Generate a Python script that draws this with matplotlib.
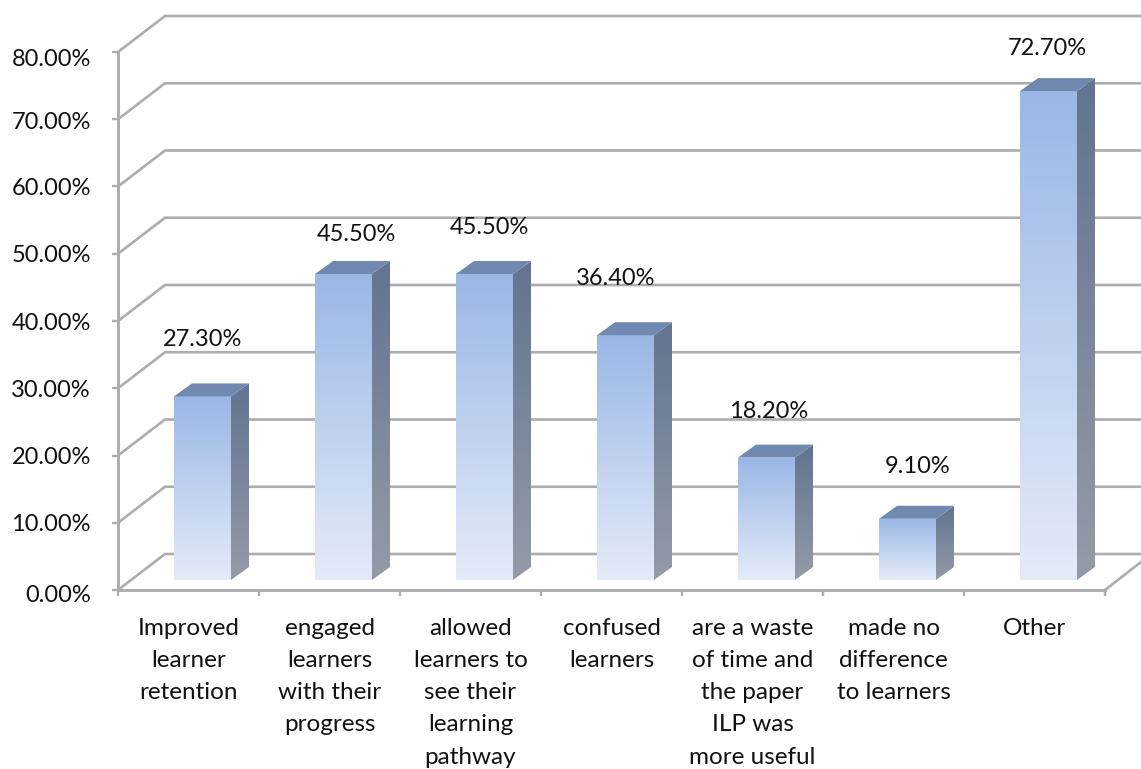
import numpy as np
import matplotlib
matplotlib.use("Agg")
import matplotlib.pyplot as plt
from matplotlib.colors import LinearSegmentedColormap
from matplotlib.patches import Polygon
from matplotlib.transforms import ScaledTranslation

categories = [
    "Improved\nlearner\nretention",
    "engaged\nlearners\nwith their\nprogress",
    "allowed\nlearners to\nsee their\nlearning\npathway",
    "confused\nlearners",
    "are a waste\nof time and\nthe paper\nILP was\nmore useful",
    "made no\ndifference\nto learners",
    "Other",
]
values = [27.3, 45.5, 45.5, 36.4, 18.2, 9.1, 72.7]
y_ticks = [0, 10, 20, 30, 40, 50, 60, 70, 80]

# label shift from the top centre of each bar, in pixels
label_dx = [0, 13, 5, -10, 2, 10, -1]
label_dy = [57, 40, 47, 57, 46, 52, 43]
# the first and last axis labels sit a little below their ticks, in pixels
tick_drop = [3, 0, 0, 0, 0, 0, 0, 1, 5]

W, H = 1141, 769
LEFT, RIGHT, BOTTOM, TOP = 118, 1105, 590, 52
GRID = "#adadad"

plt.rcParams["font.family"] = ["Lato", "DejaVu Sans"]
plt.rcParams["font.size"] = 17

fig = plt.figure(figsize=(W / 100, H / 100), dpi=100)
ax = fig.add_axes([LEFT / W, 1 - BOTTOM / H, (RIGHT - LEFT) / W, (BOTTOM - TOP) / H])
ax.set_xlim(0, 7)
ax.set_ylim(0, 80)
sx = 7 / (RIGHT - LEFT)
sy = 80 / (BOTTOM - TOP)

# wall and floor depth
wall_dx, wall_dy = 47 * sx, 36 * sy
for t in y_ticks:
    ax.plot([0, wall_dx, 8], [t, t + wall_dy, t + wall_dy], color=GRID, lw=1.9,
            clip_on=False, zorder=1, solid_joinstyle="miter")
ax.plot([7, 7 + 36 * sx], [0, 28 * sy], color=GRID, lw=1.9, clip_on=False, zorder=1)

front_cmap = LinearSegmentedColormap.from_list("front", ["#e4ebf8", "#9ab7e6"])
side_cmap = LinearSegmentedColormap.from_list("side", ["#949ba8", "#62748f"])
ramp = np.linspace(1, 0, 128).reshape(-1, 1)

bar_w = 57 * sx
depth_x, depth_y = 18 * sx, 13 * sy
base = 10 * sy


def gradient_face(corners, cmap, low, high, z):
    xs = [c[0] for c in corners]
    img = ax.imshow(ramp, cmap=cmap, vmin=0, vmax=1, aspect="auto", zorder=z,
                    extent=[min(xs), max(xs), low, high], clip_on=True)
    poly = Polygon(corners, transform=ax.transData, facecolor="none", edgecolor="none")
    ax.add_patch(poly)
    poly.set_clip_on(False)
    img.set_clip_path(poly)


for i, v in enumerate(values):
    x0 = i + 84.5 * sx - bar_w / 2
    x1 = x0 + bar_w
    y0 = base
    y1 = base + v
    gradient_face([(x0, y0), (x1, y0), (x1, y1), (x0, y1)], front_cmap, y0, y1, 3)
    gradient_face([(x1, y0), (x1 + depth_x, y0 + depth_y), (x1 + depth_x, y1 + depth_y), (x1, y1)],
                  side_cmap, y0, y1 + depth_y, 3)
    ax.add_patch(Polygon([(x0, y1), (x1, y1), (x1 + depth_x, y1 + depth_y), (x0 + depth_x, y1 + depth_y)],
                         facecolor="#7189b0", edgecolor="none", zorder=3, clip_on=False))
    ax.annotate(f"{v:.2f}%", xy=((x0 + x1) / 2, y1), xytext=(label_dx[i] * 0.72, label_dy[i] * 0.72),
                textcoords="offset points", ha="center", va="center", color="#111111", zorder=5,
                annotation_clip=False)

ax.set_xlim(0, 7)
ax.set_ylim(0, 80)

for side in ["top", "right"]:
    ax.spines[side].set_visible(False)
for side in ["left", "bottom"]:
    ax.spines[side].set_color(GRID)
    ax.spines[side].set_linewidth(2.1)
    ax.spines[side].set_zorder(2)

ax.set_yticks(y_ticks, [f"{t:.2f}%" for t in y_ticks])
ax.set_xticks(range(8), [""] * 8)
ax.set_xticks(np.arange(7) + 0.5, categories, minor=True, linespacing=1.66, ha="center", va="top",
              fontsize=17.5)
ax.tick_params(axis="both", which="major", color=GRID, width=1.7, length=4.5, labelcolor="#111111")
ax.tick_params(axis="y", which="major", pad=15)
ax.tick_params(axis="x", which="minor", length=0, pad=20, labelcolor="#111111")
ax.patch.set_alpha(0)

for lab, drop in zip(ax.get_yticklabels(), tick_drop):
    lab.set_transform(lab.get_transform() + ScaledTranslation(0, -drop / 100, fig.dpi_scale_trans))

fig.savefig("out.png", dpi=100, facecolor="white")
